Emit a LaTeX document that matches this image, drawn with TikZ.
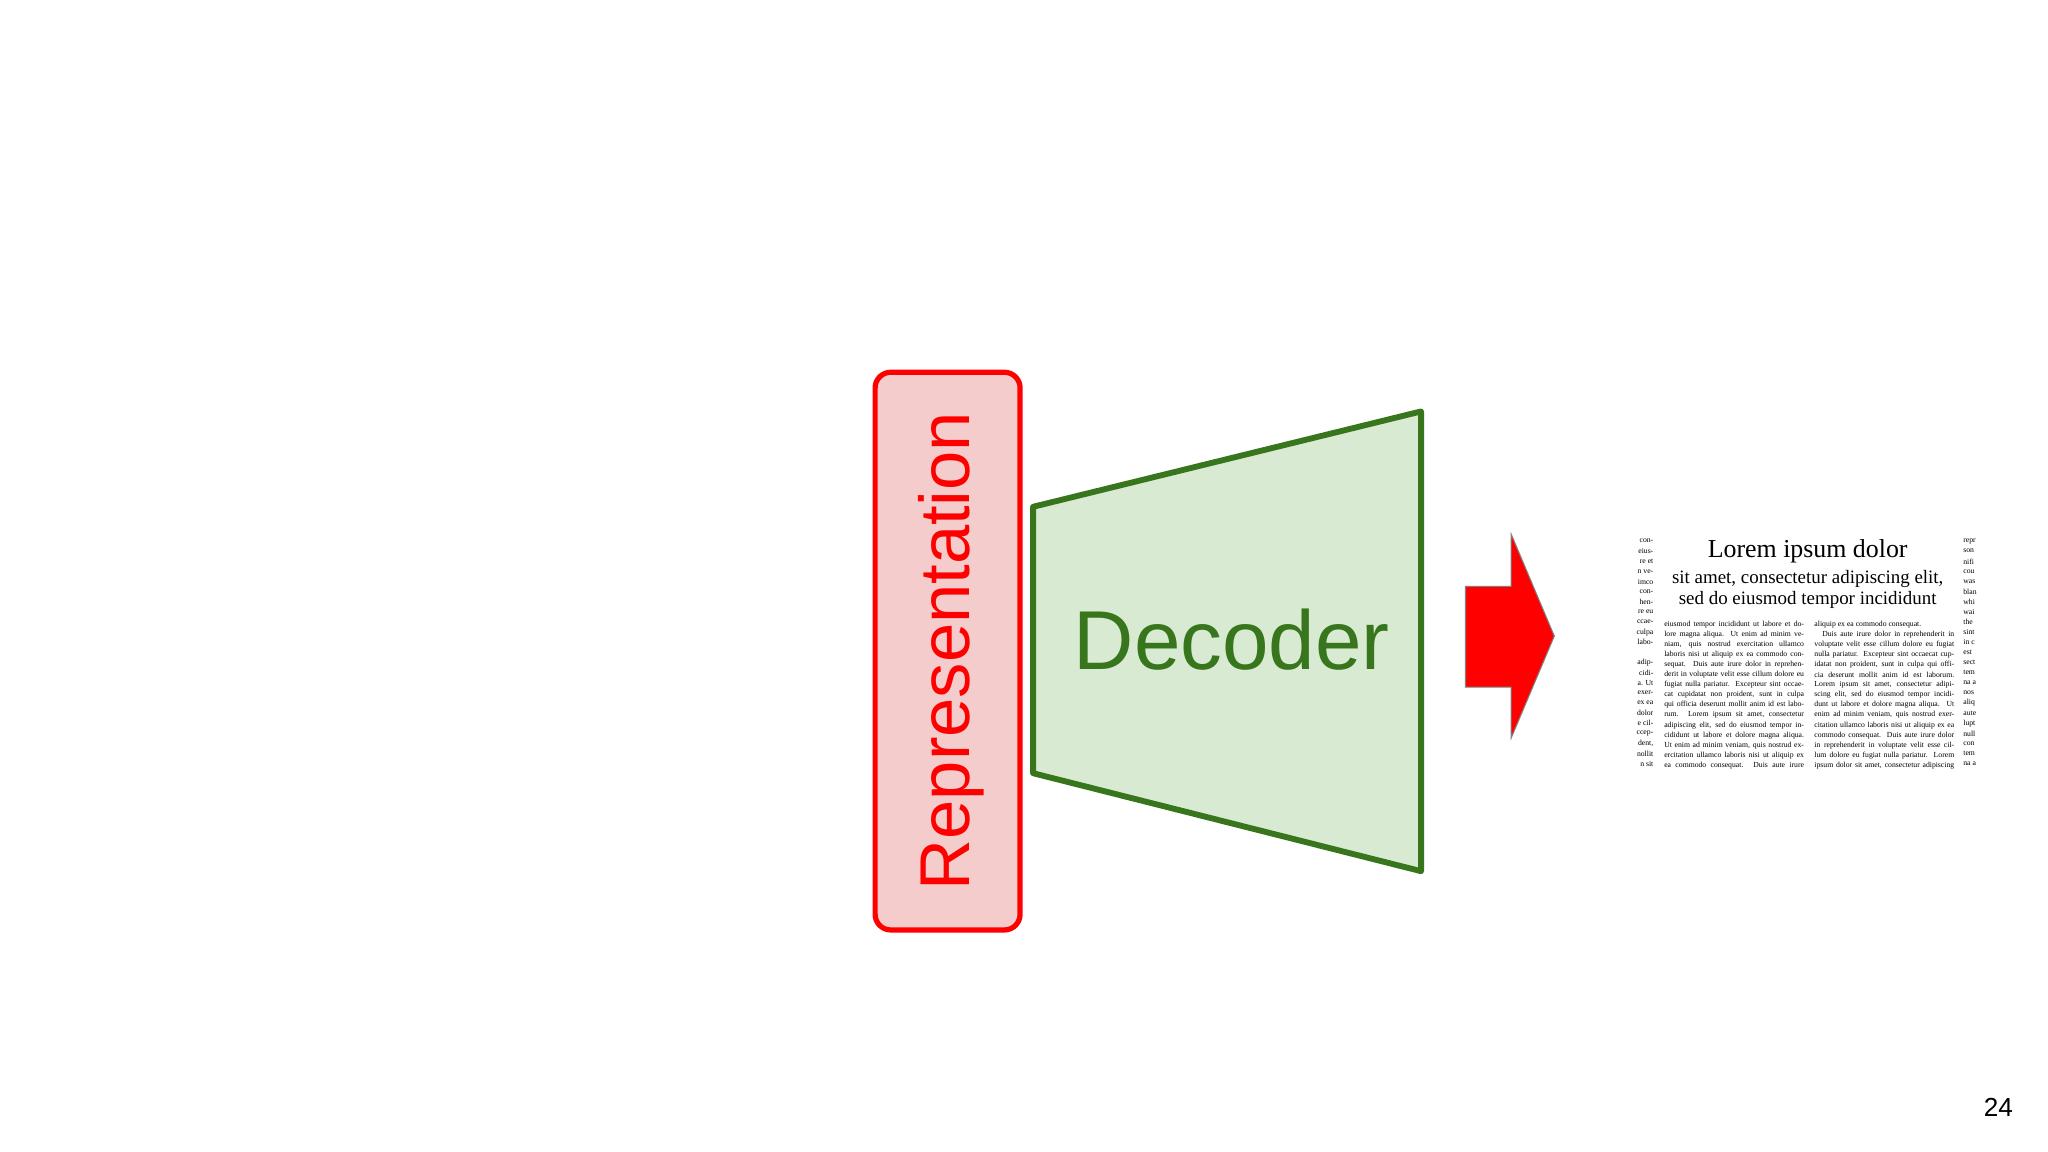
\documentclass[tikz,border=0pt]{standalone}
\usepackage{fontspec}
\setmainfont{Liberation Serif}
\setsansfont{Liberation Sans}
\definecolor{reppink}{HTML}{F4CCCC}
\definecolor{decfill}{HTML}{D9EAD3}
\definecolor{decline}{HTML}{38761D}
\begin{document}
\begin{tikzpicture}[x=1pt,y=-1pt,
  bodyl/.style={anchor=west,inner sep=0pt,font=\fontsize{5.9}{6.5}\selectfont},
  sidel/.style={anchor=east,inner sep=0pt,font=\fontsize{5.9}{6.5}\selectfont},
  sider/.style={anchor=west,inner sep=0pt,font=\fontsize{5.9}{6.5}\selectfont}]
\useasboundingbox (0,0) rectangle (1568,882);
\fill[white] (0,0) rectangle (1568,882);
% Representation
\node[draw=red,line width=4pt,fill=reppink,rounded corners=12pt,minimum width=111pt,minimum height=427pt,inner sep=0pt] (rep) at (725.5,498.5) {};
\node[rotate=90,text=red,font=\sffamily\fontsize{54}{56}\selectfont] (reptext) at (728,498.5) {Representation};
% Decoder
\draw[decline,fill=decfill,line width=4.5pt,line join=round] (791,388) coordinate (d1) -- (1088,315) coordinate (d2) -- (1088,667) coordinate (d3) -- (791,592) coordinate (d4) -- cycle;
\node[text=decline,font=\sffamily\fontsize{64}{66}\selectfont] (dectext) at (943,490) {Decoder};
% Arrow
\draw[fill=red,draw=gray,line width=0.8pt] (1122,449) coordinate (a1) -- (1157,449) -- (1157,409) -- (1190,487) coordinate (atip) -- (1157,565) -- (1157,526) -- (1122,526) -- cycle;
% Document
\node[font=\fontsize{19.8}{22}\selectfont,inner sep=0pt] (title) at (1384,422) {Lorem ipsum dolor};
\node[font=\fontsize{14.5}{16}\selectfont,align=center,inner sep=0pt] (sub) at (1384,451) {sit amet, consectetur adipiscing elit,\\sed do eiusmod tempor incididunt};
\begin{scope}
\clip (1240,405) rectangle (1520,588);
\foreach \t [count=\i] in {
{eiusmod tempor incididunt ut labore et do-},
{lore magna aliqua. Ut enim ad minim ve-},
{niam, quis nostrud exercitation ullamco},
{laboris nisi ut aliquip ex ea commodo con-},
{sequat. Duis aute irure dolor in reprehen-},
{derit in voluptate velit esse cillum dolore eu},
{fugiat nulla pariatur. Excepteur sint occae-},
{cat cupidatat non proident, sunt in culpa},
{qui officia deserunt mollit anim id est labo-},
{rum. Lorem ipsum sit amet, consectetur},
{adipiscing elit, sed do eiusmod tempor in-},
{cididunt ut labore et dolore magna aliqua.},
{Ut enim ad minim veniam, quis nostrud ex-},
{ercitation ullamco laboris nisi ut aliquip ex},
{ea commodo consequat. Duis aute irure}}
  \node[bodyl] (l\i) at (1274,{470.5+7.7*\i}) {\makebox[107pt][s]{\t}};
\node[bodyl] (r1) at (1389,478.2) {aliquip ex ea commodo consequat.};
\foreach \t [count=\i from 2] in {
{\hspace{6pt}Duis aute irure dolor in reprehenderit in},
{voluptate velit esse cillum dolore eu fugiat},
{nulla pariatur. Excepteur sint occaecat cup-},
{idatat non proident, sunt in culpa qui offi-},
{cia deserunt mollit anim id est laborum.},
{Lorem ipsum sit amet, consectetur adipi-},
{scing elit, sed do eiusmod tempor incidi-},
{dunt ut labore et dolore magna aliqua. Ut},
{enim ad minim veniam, quis nostrud exer-},
{citation ullamco laboris nisi ut aliquip ex ea},
{commodo consequat. Duis aute irure dolor},
{in reprehenderit in voluptate velit esse cil-},
{lum dolore eu fugiat nulla pariatur. Lorem},
{ipsum dolor sit amet, consectetur adipiscing}}
  \node[bodyl] (r\i) at (1389,{470.5+7.7*\i}) {\makebox[107pt][s]{\t}};
\end{scope}
\begin{scope}
\clip (1250,405) rectangle (1266,588);
\foreach \t [count=\i] in {con-,eius-,re et,n ve-,imco,con-,hen-,re eu,ccae-,culpa,labo-,{},adip-,cidi-,a. Ut,exer-,ex ea,dolor,e cil-,ccep-,{dent,},nollit,n sit}
  \node[sidel] (sl\i) at (1266,{406.5+7.75*\i}) {\t};
\end{scope}
\begin{scope}
\clip (1503,405) rectangle (1516,588);
\foreach \t [count=\i] in {repr,son,nifi,cou,was,blan,whi,wai,the,sint,in c,est,sect,tem,na a,nos,aliq,aute,lupt,null,con,tem,na a}
  \node[sider] (sr\i) at (1503,{406.5+7.75*\i}) {\t};
\end{scope}
\node[font=\sffamily\fontsize{20}{22}\selectfont] (page) at (1530,848) {24};
\end{tikzpicture}
\end{document}
